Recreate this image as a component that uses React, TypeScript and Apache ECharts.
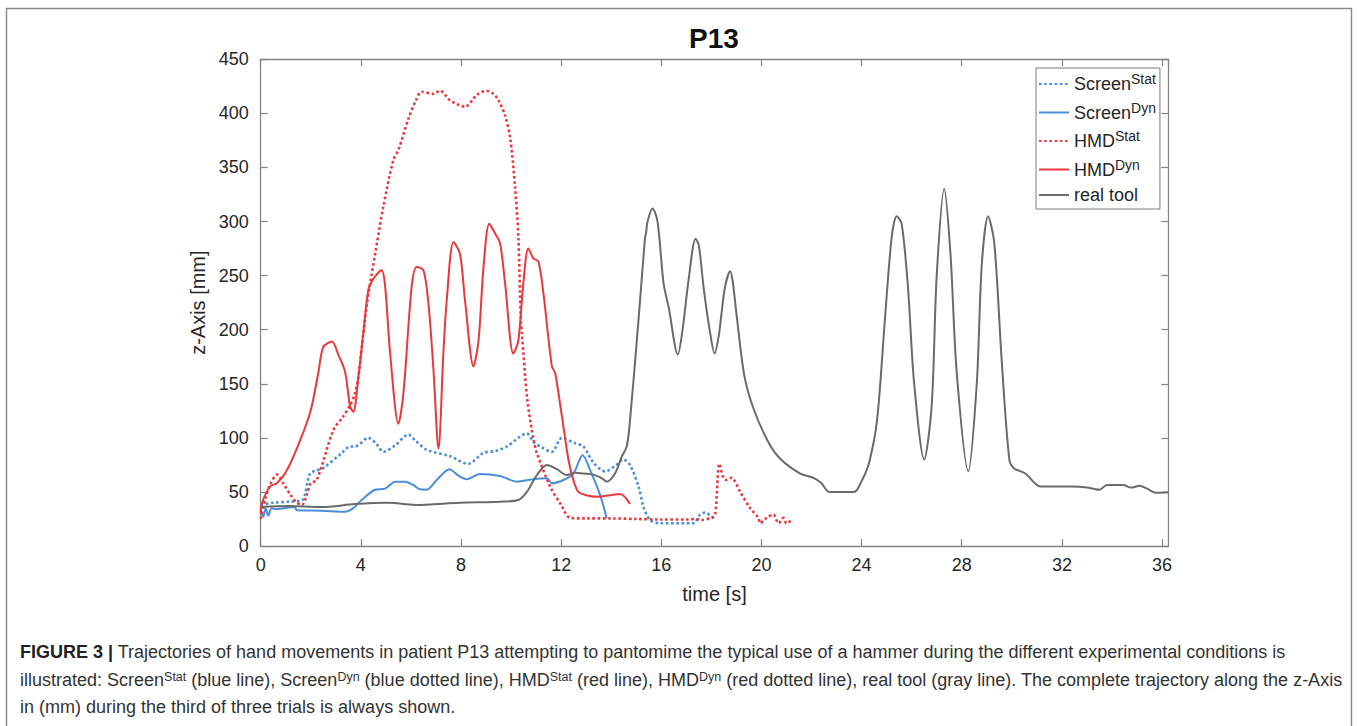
import React, { useEffect, useRef } from 'react';
import * as echarts from 'echarts';

// ---- data (time [s], z [mm]) ----
const screenStat: [number, number][] = [
  [0, 38], [0.5, 40], [1.1, 41], [1.64, 42], [1.97, 67], [2.24, 70], [2.5, 72], [3.24, 86], [3.57, 92],
  [3.77, 92], [4.3, 100], [4.6, 95], [4.9, 87], [5.37, 93], [5.9, 103], [6.2, 97], [6.63, 89], [7.56, 83],
  [8.29, 76], [8.89, 86], [9.4, 88], [9.83, 92], [10.63, 104], [10.9, 96], [11.16, 92], [11.63, 87],
  [12.03, 100], [12.56, 95], [12.89, 92], [13.29, 77], [13.76, 69], [14.2, 75], [14.49, 80], [14.75, 75],
  [15.09, 55], [15.29, 36], [15.55, 24], [15.95, 21], [17.28, 21], [17.55, 29], [17.75, 31], [18.02, 27], [18.1, 25],
];

const screenDyn: [number, number][] = [
  [0, 33], [0.1, 27], [0.2, 35], [0.3, 28], [0.44, 35], [0.6, 34], [1.37, 36], [1.44, 33], [2.44, 32.6],
  [3.37, 31.7], [3.7, 35], [4.03, 42.5], [4.57, 52], [4.97, 53], [5.37, 59.5], [5.77, 59.5], [6.1, 56.4],
  [6.36, 52.4], [6.63, 52], [7.03, 61], [7.54, 71], [7.9, 65], [8.23, 61.7], [8.76, 66.6], [9.56, 64.7],
  [10.23, 59.5], [10.89, 61.7], [11.43, 62.6], [11.63, 58], [12.09, 61], [12.49, 67], [12.86, 84],
  [13.16, 70], [13.56, 47], [13.82, 25.6],
];

const hmdStat: [number, number][] = [
  [0, 25], [0.2, 45], [0.4, 58], [0.65, 66], [0.9, 58], [1.2, 47], [1.45, 40], [1.65, 38], [1.85, 48],
  [2.0, 58], [2.24, 61], [2.9, 107], [3.3, 120], [3.57, 130], [3.75, 140], [3.9, 156], [4.1, 197],
  [4.25, 225], [4.57, 270], [4.9, 314], [5.3, 357], [5.5, 366], [5.9, 395], [6.2, 412], [6.43, 420],
  [6.9, 418], [7.16, 421], [7.56, 412], [7.9, 408], [8.16, 406], [8.63, 417], [9.0, 421], [9.3, 418],
  [9.5, 412], [9.76, 398], [9.96, 378], [10.16, 332], [10.29, 286], [10.39, 209], [10.43, 197],
  [10.65, 135], [10.9, 98], [11.03, 86], [11.56, 55], [12.0, 38], [12.36, 26], [13, 25.5], [14, 25.5],
  [15, 25], [16, 24.5], [17, 24.5], [17.4, 25], [17.6, 24], [18.0, 26], [18.15, 29], [18.32, 76],
  [18.48, 63], [18.6, 61], [18.8, 63], [19.15, 50], [19.55, 35], [19.88, 26], [19.95, 21], [20.2, 26],
  [20.48, 29], [20.68, 21], [20.88, 26], [21.0, 21], [21.2, 24],
];

const hmdDyn: [number, number][] = [
  [0, 30], [0.04, 39], [0.37, 55], [0.64, 58], [0.97, 67], [1.37, 86], [1.97, 123], [2.3, 160], [2.5, 184],
  [2.84, 189], [3.1, 177], [3.37, 161], [3.57, 129], [3.7, 124], [3.9, 156], [4.1, 197], [4.3, 237],
  [4.5, 247], [4.83, 255], [4.97, 240], [5.17, 178], [5.5, 113], [5.7, 141], [6.03, 240], [6.23, 258],
  [6.5, 255], [6.7, 224], [6.9, 163], [7.1, 90], [7.3, 180], [7.43, 227], [7.7, 281], [7.96, 270],
  [8.16, 227], [8.5, 166], [8.7, 190], [8.9, 258], [9.13, 298], [9.36, 289], [9.56, 280], [9.76, 243],
  [10.09, 178], [10.29, 190], [10.49, 243], [10.69, 275], [10.89, 266], [11.09, 263], [11.29, 234],
  [11.63, 166], [11.76, 160], [12.03, 120], [12.29, 80], [12.5, 60], [12.69, 50], [13.0, 47],
  [13.42, 45.6], [13.96, 47], [14.35, 48], [14.75, 39],
];

const realTool: [number, number][] = [
  [0, 36], [1.1, 37], [2.44, 36], [3.77, 38.8], [5.1, 40], [6.16, 38], [7.96, 40], [9.56, 41], [10.29, 42.5],
  [10.63, 50], [11.03, 65.6], [11.43, 75], [11.83, 71], [12.23, 65.6], [12.56, 67.8], [12.89, 67],
  [13.29, 66], [13.6, 63], [13.82, 59.5], [14.15, 67], [14.42, 82.6], [14.62, 92], [14.75, 116],
  [15.09, 209], [15.35, 285], [15.39, 289], [15.45, 300], [15.65, 312], [15.85, 300], [16.09, 243],
  [16.3, 220], [16.66, 177], [16.85, 200], [17.09, 246], [17.37, 284], [17.5, 278], [17.7, 237],
  [17.93, 200], [18.13, 178], [18.3, 195], [18.39, 212], [18.55, 240], [18.75, 254], [18.85, 245],
  [19.0, 215], [19.32, 157], [19.7, 126], [20.3, 95], [20.78, 80], [21.55, 67], [22.08, 63], [22.4, 58],
  [22.7, 50], [23.7, 50], [24.0, 60], [24.3, 77], [24.62, 117], [24.93, 209], [25.2, 285], [25.4, 305],
  [25.6, 298], [25.85, 240], [26.1, 150], [26.5, 80], [26.8, 130], [27.0, 250], [27.3, 330], [27.55, 270],
  [27.8, 160], [28.26, 69], [28.6, 150], [28.8, 260], [29.05, 305], [29.3, 280], [29.6, 170], [29.9, 80],
  [30.08, 72], [30.54, 67], [31.15, 55], [32.45, 55], [33.0, 54], [33.5, 52], [33.8, 56.4], [34.45, 56.4],
  [34.76, 54], [35.1, 55.7], [35.4, 53], [35.76, 49.3], [36.25, 49.6],
];

const seriesNames = ['ScreenStat', 'ScreenDyn', 'HMDStat', 'HMDDyn', 'real tool'];
const legendLabels: Record<string, string> = {
  ScreenStat: '{m|Screen}{s|Stat}',
  ScreenDyn: '{m|Screen}{s|Dyn}',
  HMDStat: '{m|HMD}{s|Stat}',
  HMDDyn: '{m|HMD}{s|Dyn}',
  'real tool': '{m|real tool}',
};

const captionLines = [
  '{b|FIGURE 3 |} Trajectories of hand movements in patient P13 attempting to pantomime the typical use of a hammer during the different experimental conditions is',
  'illustrated: Screen{s|Stat} (blue line), Screen{s|Dyn} (blue dotted line), HMD{s|Stat} (red line), HMD{s|Dyn} (red dotted line), real tool (gray line). The complete trajectory along the z-Axis',
  'in (mm) during the third of three trials is always shown.',
];

const BLUE = '#4a8edb';
const RED = '#e8383d';
const GRAY = '#6a6a6a';
const AXIS = '#858585';
const TEXT = '#262626';
const FONT = '"Liberation Sans", Arial, Helvetica, sans-serif';

export default function App() {
  const ref = useRef<HTMLDivElement>(null);

  useEffect(() => {
    const chart = echarts.init(ref.current!, null, { renderer: 'svg' });

    const line = (name: string, data: [number, number][], color: string, dotted: boolean) => ({
      name,
      type: 'line',
      data,
      symbol: 'none',
      showSymbol: false,
      smooth: 0.3,
      xAxisIndex: 0,
      yAxisIndex: 0,
      lineStyle: { color, width: dotted ? 2.6 : 2, type: dotted ? [2.6, 2.6] : 'solid' },
      itemStyle: { color },
    });

    const xCommon = {
      type: 'value',
      min: 0,
      max: 36.25,
      interval: 4,
      axisLine: { show: true, onZero: false, lineStyle: { color: AXIS, width: 1.3 } },
      axisTick: { show: true, inside: true, length: 7, lineStyle: { color: AXIS, width: 1.2 } },
      splitLine: { show: false },
    };
    const yCommon = {
      type: 'value',
      min: 0,
      max: 450,
      interval: 50,
      axisLine: { show: true, onZero: false, lineStyle: { color: AXIS, width: 1.3 } },
      axisTick: { show: true, inside: true, length: 7, lineStyle: { color: AXIS, width: 1.2 } },
      splitLine: { show: false },
    };

    const captionGraphics = captionLines.map((t, i) => ({
      type: 'text',
      x: 20,
      y: 652 + i * 27.5,
      style: {
        text: t,
        fill: '#333',
        font: `18px ${FONT}`,
        verticalAlign: 'middle',
        rich: {
          b: { fontWeight: 'bold', fontSize: 18, fontFamily: FONT, fill: '#222' },
          s: { fontSize: 12.5, verticalAlign: 'top', fontFamily: FONT, lineHeight: 12 },
        },
      },
    }));

    chart.setOption({
      animation: false,
      backgroundColor: '#fff',
      textStyle: { fontFamily: FONT },
      grid: { left: 260.7, right: 189.7, top: 59.3, bottom: 180, containLabel: false },
      xAxis: [
        {
          ...xCommon,
          position: 'bottom',
          axisLabel: { showMaxLabel: false, fontSize: 18, color: TEXT, margin: 10, fontFamily: FONT },
          name: 'time [s]',
          nameLocation: 'middle',
          nameGap: 38,
          nameTextStyle: { fontSize: 20, color: TEXT, fontFamily: FONT },
        },
        { ...xCommon, position: 'top', axisLabel: { show: false } },
      ],
      yAxis: [
        {
          ...yCommon,
          position: 'left',
          axisLabel: { fontSize: 18, color: TEXT, margin: 12, fontFamily: FONT },
          name: 'z-Axis [mm]',
          nameLocation: 'middle',
          nameGap: 37,
          nameTextStyle: { fontSize: 20, color: TEXT, fontFamily: FONT },
        },
        { ...yCommon, position: 'right', axisLabel: { show: false } },
      ],
      legend: {
        orient: 'vertical',
        left: 1036,
        top: 68,
        itemWidth: 30,
        itemHeight: 14,
        itemGap: 7.5,
        padding: [4, 4, 5, 2],
        borderColor: '#7a7a7a',
        borderWidth: 1,
        backgroundColor: '#fff',
        data: seriesNames,
        itemStyle: { opacity: 0, color: 'transparent', borderWidth: 0 },
        formatter: (n: string) => legendLabels[n],
        textStyle: {
          color: TEXT,
          fontFamily: FONT,
          rich: {
            m: { fontSize: 18, lineHeight: 24, fontFamily: FONT, color: TEXT },
            s: { fontSize: 14, lineHeight: 14, verticalAlign: 'top', fontFamily: FONT, color: TEXT },
          },
        },
      },
      series: [
        line('ScreenStat', screenStat, BLUE, true),
        line('ScreenDyn', screenDyn, BLUE, false),
        line('HMDStat', hmdStat, RED, true),
        line('HMDDyn', hmdDyn, RED, false),
        line('real tool', realTool, GRAY, false),
      ],
      graphic: [
        {
          type: 'rect',
          shape: { x: 6.5, y: 8.5, width: 1345, height: 740 },
          style: { fill: 'none', stroke: '#8a8a8a', lineWidth: 1.5 },
          silent: true,
          z: -1,
        },
        {
          type: 'text',
          x: 714,
          y: 38,
          style: {
            text: 'P13',
            align: 'center',
            verticalAlign: 'middle',
            font: `bold 28px ${FONT}`,
            fill: '#111',
          },
        },
        ...captionGraphics,
      ],
    });

    return () => chart.dispose();
  }, []);

  return <div ref={ref} style={{ position: 'absolute', left: 0, top: 0, width: 1358, height: 726 }} />;
}
